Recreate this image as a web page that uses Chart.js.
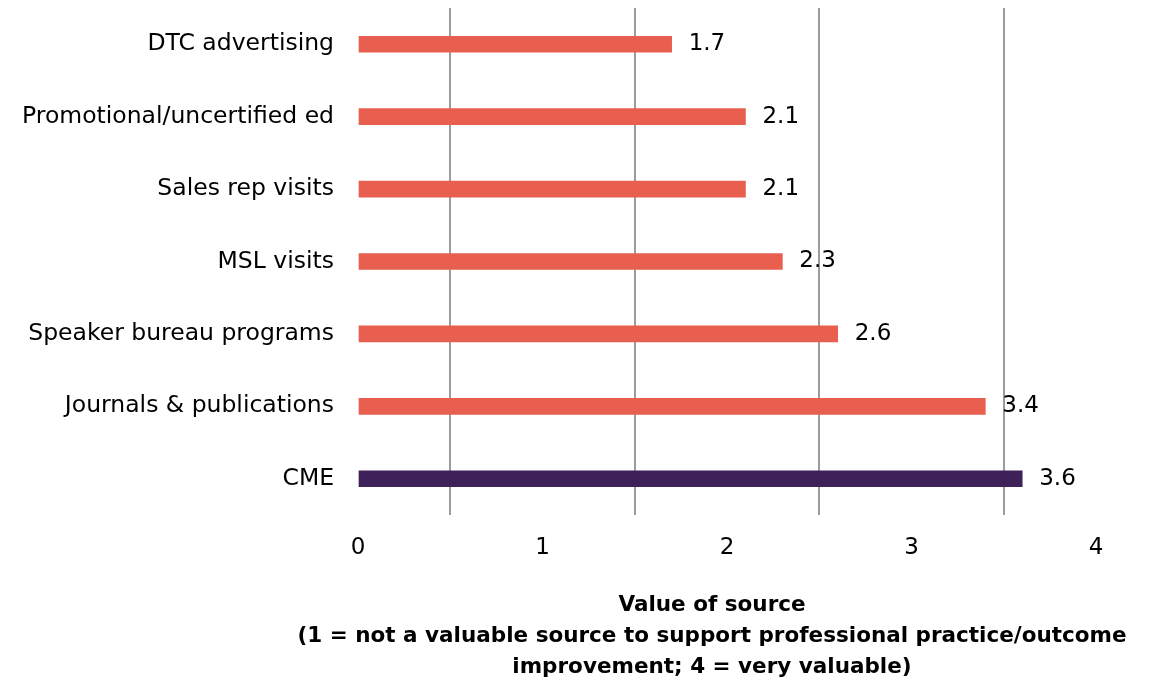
<!DOCTYPE html>
<html>
<head>
<meta charset="utf-8">
<script src="https://cdn.jsdelivr.net/npm/chart.js@4.4.1/dist/chart.umd.min.js"></script>
<style>
html,body{margin:0;padding:0;background:#fff;}
#wrap{width:1153px;height:682px;}
</style>
</head>
<body>
<div id="wrap"><canvas id="c" width="1153" height="682"></canvas></div>
<script>
const categories = ["DTC advertising","Promotional/uncertified ed","Sales rep visits","MSL visits","Speaker bureau programs","Journals & publications","CME"];
const values = [1.7, 2.1, 2.1, 2.3, 2.6, 3.4, 3.6];
const barColors = ["#E95F4F","#E95F4F","#E95F4F","#E95F4F","#E95F4F","#E95F4F","#3E2159"];
const xTickValues = [0, 1, 2, 3, 4];
const axisTitle = ["Value of source","(1 = not a valuable source to support professional practice/outcome","improvement; 4 = very valuable)"];

const FONT = "'DejaVu Sans', sans-serif";

const valueLabels = {
  id: 'valueLabels',
  afterDatasetsDraw(chart) {
    const ctx = chart.ctx;
    const meta = chart.getDatasetMeta(0);
    ctx.save();
    ctx.font = "23px " + FONT;
    ctx.fillStyle = "#000";
    ctx.textAlign = "left";
    ctx.textBaseline = "middle";
    meta.data.forEach((bar, i) => {
      ctx.fillText(values[i].toFixed(1), bar.x + 17, bar.y);
    });
    ctx.restore();
  }
};

const xAxisTitle = {
  id: 'xAxisTitle',
  afterDraw(chart) {
    const ctx = chart.ctx;
    const sc = chart.scales.x;
    const cx = (chart.chartArea.left + chart.chartArea.right) / 2 - 15;
    const lh = 31;
    ctx.save();
    ctx.font = "bold 21.5px " + FONT;
    ctx.fillStyle = "#000";
    ctx.textAlign = "center";
    ctx.textBaseline = "middle";
    axisTitle.forEach((line, i) => {
      const y = sc.bottom - 15 - (axisTitle.length - 1 - i) * lh;
      ctx.fillText(line, cx, y);
    });
    ctx.restore();
  }
};

new Chart(document.getElementById('c'), {
  type: 'bar',
  data: {
    labels: categories,
    datasets: [{
      data: values,
      backgroundColor: barColors,
      borderWidth: 0,
      barThickness: 16
    }]
  },
  options: {
    indexAxis: 'y',
    responsive: false,
    animation: false,
    layout: { padding: { top: 8, right: 57, bottom: 0, left: 0 } },
    plugins: { legend: { display: false }, tooltip: { enabled: false } },
    scales: {
      x: {
        min: 0, max: 4,
        afterBuildTicks(scale) { scale.ticks = xTickValues.map(v => ({ value: v })); },
        afterFit(scale) { scale.height = 167; scale.paddingLeft = 0; },
        border: { display: false },
        grid: { offset: true, color: "#9c9c9c", lineWidth: 2, drawTicks: false },
        ticks: { color: "#000", font: { family: FONT, size: 23 }, padding: 19 }
      },
      y: {
        afterFit(scale) { scale.width = 358; scale.paddingTop = 0; scale.paddingBottom = 0; },
        border: { display: false },
        grid: { display: false, drawTicks: false },
        ticks: { color: "#000", font: { family: FONT, size: 23.5 }, padding: 24 }
      }
    }
  },
  plugins: [valueLabels, xAxisTitle]
});
</script>
</body>
</html>
